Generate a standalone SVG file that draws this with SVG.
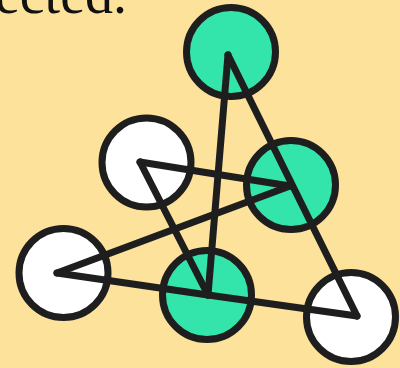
<svg xmlns="http://www.w3.org/2000/svg" width="400" height="368" viewBox="0 0 400 368">
<style>
.bg{fill:#FDE29B}
.node{stroke:#1E1E1E;stroke-width:7}
.g{fill:#33E5AA}
.w{fill:#FFFFFF}
.edge{stroke:#1E1E1E;stroke-width:7;stroke-linecap:round;fill:none}
.t{font-family:"Liberation Serif","Times New Roman",serif;font-size:56px;fill:#111}
</style>
<rect class="bg" x="0" y="0" width="400" height="368"/>
<text class="t" x="127" y="12.5" text-anchor="end">ected.</text>
<g id="nodeA"><circle class="node g" cx="231" cy="52" r="44.5"/></g>
<g id="nodeB"><circle class="node w" cx="146.5" cy="162.5" r="44.5"/></g>
<g id="nodeC"><circle class="node g" cx="291" cy="185" r="44.5"/></g>
<g id="nodeD"><circle class="node w" cx="63.5" cy="273" r="44.5"/></g>
<g id="nodeE"><circle class="node g" cx="207" cy="295" r="44.5"/></g>
<g id="nodeF"><circle class="node w" cx="351" cy="317" r="44.5"/></g>
<g id="connectors">
<line class="edge" x1="228" y1="55" x2="208" y2="295"/>
<line class="edge" x1="228" y1="55" x2="357" y2="316"/>
<line class="edge" x1="140" y1="162" x2="290" y2="186"/>
<line class="edge" x1="140" y1="162" x2="208" y2="295"/>
<line class="edge" x1="290" y1="186" x2="57" y2="273"/>
<line class="edge" x1="57" y1="273" x2="208" y2="295"/>
<line class="edge" x1="208" y1="295" x2="357" y2="316"/>
</g>
</svg>
